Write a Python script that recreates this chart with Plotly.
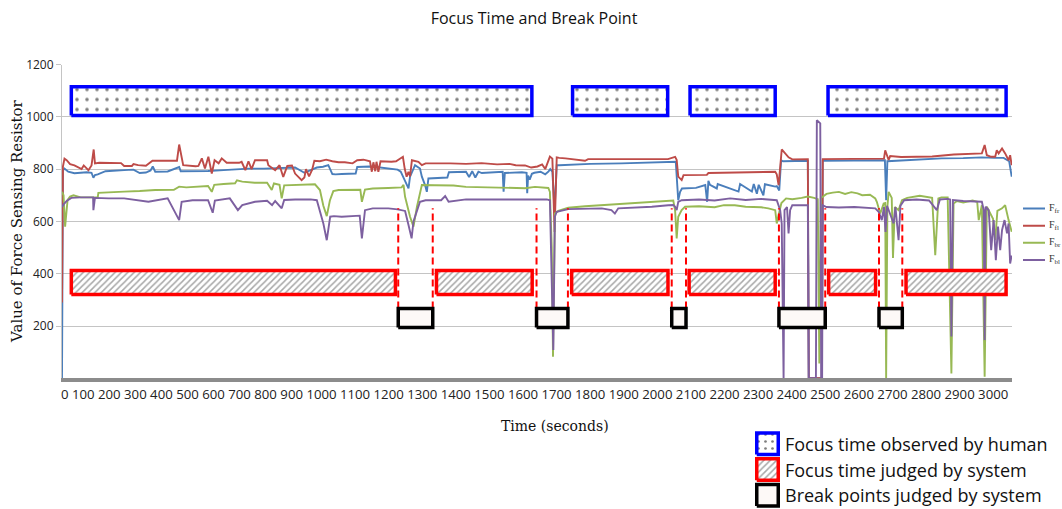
import plotly.graph_objects as go

# ---------------------------------------------------------------------------
# Force sensing resistor readings: (time in s, raw value)
# fr = front right, fl = front left, br = back right, bl = back left
# ---------------------------------------------------------------------------
FR_READINGS = [
    (0, 0), (3, 795), (8, 802), (20, 790), (40, 784), (60, 786), (80, 788), (95, 786),
    (101, 767), (106, 777), (115, 780), (140, 792), (170, 793), (200, 796), (230, 798),
    (240, 790), (250, 785), (270, 787), (285, 795), (292, 810), (300, 790), (340, 791),
    (377, 808), (382, 792), (420, 792), (470, 793), (520, 796), (560, 800), (600, 802),
    (650, 802), (700, 803), (750, 806), (780, 786), (800, 795), (820, 806), (840, 809),
    (847, 812), (857, 815), (870, 781), (880, 780), (900, 781), (930, 782), (945, 783),
    (950, 808), (990, 810), (1010, 808), (1040, 803), (1070, 800), (1080, 798), (1090, 790),
    (1104, 752), (1115, 726), (1120, 771), (1136, 815), (1152, 802), (1158, 771), (1168, 740),
    (1174, 713), (1179, 764), (1200, 765), (1240, 768), (1245, 788), (1300, 790), (1310, 770),
    (1320, 792), (1330, 768), (1340, 790), (1351, 785), (1400, 790), (1418, 790), (1421, 714),
    (1425, 785), (1480, 788), (1495, 786), (1497, 708), (1500, 775), (1505, 760), (1512, 782),
    (1520, 786), (1540, 790), (1555, 780), (1565, 790), (1571, 800), (1578, 790), (1585, 640),
    (1592, 815), (1600, 815), (1700, 820), (1800, 822), (1900, 824), (1950, 825), (1975, 828),
    (1983, 681), (1989, 713), (1995, 726), (2040, 728), (2070, 739), (2076, 675), (2080, 755),
    (2085, 740), (2107, 726), (2110, 743), (2177, 714), (2182, 743), (2220, 714), (2226, 743),
    (2236, 706), (2242, 740), (2257, 700), (2262, 742), (2295, 733), (2300, 735), (2308, 718),
    (2314, 834), (2320, 830), (2400, 832), (2403, 0), (2445, 0), (2448, 832), (2500, 833),
    (2600, 835), (2648, 834), (2652, 681), (2656, 830), (2700, 833), (2750, 836), (2800, 838),
    (2830, 841), (2900, 842), (2960, 845), (3000, 843), (3030, 843), (3048, 830), (3056, 771),
]

FL_READINGS = [
    (0, 290), (3, 810), (8, 840), (15, 834), (26, 819), (40, 814), (63, 800), (70, 814),
    (85, 796), (95, 814), (102, 875), (106, 822), (120, 824), (160, 824), (190, 823),
    (200, 812), (225, 812), (230, 819), (245, 815), (270, 813), (291, 832), (300, 832),
    (370, 832), (377, 894), (383, 860), (390, 815), (430, 811), (439, 812), (450, 841),
    (460, 802), (471, 847), (482, 783), (491, 834), (504, 822), (514, 841), (530, 824),
    (570, 824), (578, 828), (590, 796), (600, 830), (610, 800), (621, 834), (660, 834),
    (664, 815), (686, 796), (700, 815), (712, 770), (725, 812), (740, 814), (750, 783),
    (771, 758), (780, 768), (785, 800), (795, 772), (805, 798), (812, 832), (830, 830),
    (850, 836), (870, 830), (890, 826), (910, 826), (935, 822), (950, 834), (970, 836),
    (991, 830), (997, 790), (1002, 826), (1008, 792), (1012, 828), (1018, 790), (1025, 830),
    (1040, 828), (1060, 828), (1075, 830), (1090, 840), (1097, 847), (1103, 800), (1109, 771),
    (1115, 790), (1120, 772), (1126, 834), (1147, 828), (1158, 815), (1170, 822), (1250, 822),
    (1300, 820), (1350, 823), (1400, 818), (1440, 820), (1460, 815), (1490, 814), (1510, 806),
    (1530, 810), (1545, 818), (1555, 800), (1560, 815), (1570, 848), (1578, 840), (1585, 560),
    (1592, 845), (1600, 843), (1620, 841), (1683, 832), (1693, 838), (1750, 838), (1850, 837),
    (1950, 838), (1973, 847), (1978, 835), (1983, 771), (1994, 758), (2000, 777), (2075, 778),
    (2080, 785), (2150, 786), (2250, 788), (2295, 790), (2300, 780), (2306, 739), (2316, 875),
    (2327, 860), (2338, 845), (2350, 837), (2400, 838), (2403, 0), (2445, 0), (2448, 838),
    (2500, 838), (2600, 840), (2645, 840), (2649, 872), (2660, 835), (2665, 850), (2700, 846),
    (2800, 848), (2850, 853), (2870, 856), (2960, 860), (2969, 892), (2976, 853), (2990, 847),
    (3003, 847), (3008, 872), (3014, 860), (3025, 879), (3035, 860), (3046, 834), (3051, 853),
    (3056, 815),
]

FBR_READINGS = [
    (0, 713), (5, 700), (10, 580), (18, 682), (26, 695), (37, 700), (60, 692), (90, 693),
    (115, 692), (117, 709), (150, 712), (200, 714), (250, 716), (300, 720), (360, 721),
    (377, 733), (400, 730), (440, 734), (470, 735), (482, 713), (490, 740), (520, 743),
    (557, 746), (563, 757), (580, 752), (620, 748), (660, 748), (675, 720), (682, 745),
    (700, 740), (707, 688), (715, 738), (750, 740), (780, 739), (814, 742), (830, 720),
    (841, 660), (852, 620), (862, 680), (873, 716), (890, 720), (960, 721), (965, 675),
    (975, 722), (1000, 726), (1050, 728), (1093, 730), (1099, 740), (1104, 694), (1120, 618),
    (1131, 580), (1142, 655), (1152, 707), (1158, 739), (1200, 738), (1260, 737), (1300, 732),
    (1400, 730), (1490, 727), (1522, 732), (1565, 728), (1570, 713), (1576, 500), (1580, 82),
    (1586, 630), (1597, 640), (1629, 652), (1683, 658), (1737, 662), (1790, 665), (1844, 671),
    (1898, 675), (1951, 679), (1967, 680), (1973, 640), (1978, 535), (1983, 618), (1994, 643),
    (2005, 656), (2050, 658), (2100, 654), (2130, 662), (2165, 662), (2200, 656), (2250, 654),
    (2273, 650), (2295, 643), (2300, 592), (2305, 620), (2315, 670), (2330, 688), (2350, 685),
    (2380, 690), (2400, 695), (2420, 690), (2432, 685), (2437, 57), (2442, 690), (2448, 694),
    (2460, 705), (2480, 710), (2500, 713), (2520, 705), (2540, 712), (2560, 707), (2575, 700),
    (2600, 702), (2617, 688), (2622, 675), (2633, 630), (2644, 668), (2649, 670), (2652, 0),
    (2656, 655), (2660, 713), (2670, 690), (2674, 460), (2680, 655), (2692, 643), (2703, 681),
    (2720, 690), (2760, 698), (2800, 690), (2810, 471), (2820, 688), (2830, 692), (2850, 692),
    (2862, 18), (2869, 668), (2880, 678), (2900, 672), (2930, 680), (2945, 675), (2950, 605),
    (2960, 662), (2969, 6), (2976, 656), (2985, 635), (2996, 610), (3003, 528), (3010, 640),
    (3025, 650), (3035, 662), (3046, 605), (3051, 580), (3056, 560),
]

FBL_READINGS = [
    (0, 655), (5, 665), (15, 678), (30, 690), (60, 692), (100, 692), (101, 643), (106, 690),
    (150, 688), (200, 688), (278, 675), (300, 680), (340, 688), (377, 605), (385, 675),
    (420, 681), (470, 681), (485, 633), (492, 680), (540, 688), (566, 643), (580, 662),
    (621, 675), (660, 679), (676, 662), (686, 678), (707, 650), (715, 682), (750, 684),
    (800, 684), (820, 681), (841, 592), (852, 528), (863, 618), (875, 620), (900, 618),
    (930, 620), (958, 622), (965, 535), (975, 643), (1000, 650), (1050, 650), (1080, 646),
    (1104, 640), (1115, 586), (1125, 535), (1131, 600), (1142, 643), (1152, 675), (1170, 681),
    (1220, 681), (1233, 697), (1244, 675), (1300, 684), (1400, 684), (1500, 686), (1560, 684),
    (1570, 681), (1576, 400), (1581, 108), (1586, 618), (1592, 637), (1629, 647), (1737, 650),
    (1768, 643), (1779, 630), (1790, 650), (1844, 653), (1898, 656), (1951, 662), (1967, 663),
    (1973, 656), (1978, 643), (1983, 675), (1994, 681), (2050, 684), (2100, 680), (2150, 688),
    (2200, 682), (2250, 686), (2295, 681), (2300, 681), (2311, 643), (2316, 592), (2322, 0),
    (2325, 643), (2333, 655), (2338, 554), (2343, 643), (2350, 662), (2400, 662), (2403, 0),
    (2426, 0), (2429, 987), (2440, 975), (2443, 0), (2446, 0), (2448, 662), (2460, 655),
    (2500, 653), (2550, 655), (2600, 652), (2617, 650), (2628, 637), (2638, 605), (2645, 655),
    (2650, 560), (2655, 660), (2676, 592), (2682, 655), (2692, 528), (2698, 660), (2710, 681),
    (2750, 684), (2790, 680), (2815, 643), (2825, 684), (2850, 686), (2858, 684), (2862, 160),
    (2867, 682), (2900, 678), (2940, 676), (2960, 675), (2966, 643), (2969, 146), (2972, 656),
    (2982, 643), (2990, 490), (2998, 605), (3005, 452), (3012, 580), (3019, 490), (3025, 567),
    (3033, 605), (3041, 554), (3046, 592), (3051, 439), (3056, 470),
]

SENSOR_NAMES = ["F<sub>fr</sub>", "F<sub>fl</sub>", "F<sub>br</sub>", "F<sub>bl</sub>"]

# Intervals in seconds: (start, end)
HUMAN_FOCUS = [(30, 1512), (1643, 1949), (2021, 2295), (2465, 3038)]
SYSTEM_FOCUS = [(30, 1073), (1205, 1513), (1640, 1950), (2018, 2295), (2467, 2618), (2716, 3038)]
BREAK_POINTS = [(1082, 1193), (1527, 1628), (1962, 2008), (2307, 2456), (2629, 2704)]

X_TICK_LABELS = [str(v) for v in range(0, 3001, 100)]
Y_TICKS = [200, 400, 600, 800, 1000, 1200]

LEGEND_LABELS = ["Focus time observed by human",
                 "Focus time judged by system",
                 "Break points judged by system"]

# ---------------------------------------------------------------------------
# Styling / layout constants
# ---------------------------------------------------------------------------
W, H = 1062, 509
PLOT_L, PLOT_R, PLOT_T, PLOT_B = 62, 1012, 64.5, 378.3

SENSOR_COLORS = ["#4a7ebb", "#be4b48", "#98b954", "#7d60a0"]

HUMAN_BAND = (1005, 1115)
SYSTEM_BAND = (320, 412)
BREAK_BAND = (194, 267)
DASH_SPAN = (267, 650)

HUMAN_STYLE = dict(line="#0000ff", pattern=dict(shape=".", fgcolor="#000000", bgcolor="white",
                                                size=10, solidity=0.1))
SYSTEM_STYLE = dict(line="#ff0000", pattern=dict(shape="/", fgcolor="#505050", bgcolor="white",
                                                 size=4.5, solidity=0.33))
BREAK_STYLE = dict(line="#000000", pattern=None)
BREAK_FILL = "#fdf9f7"


def px_x(px):
    return px / W


def px_y(py):
    return 1 - py / H


def box_outline(intervals, band):
    xs, ys = [], []
    y0, y1 = band
    for a, b in intervals:
        xs += [a, b, b, a, a, None]
        ys += [y0, y0, y1, y1, y0, None]
    return xs, ys


fig = go.Figure()

# sensor traces
for readings, name, color in zip([FR_READINGS, FL_READINGS, FBR_READINGS, FBL_READINGS],
                                 SENSOR_NAMES, SENSOR_COLORS):
    t, v = zip(*readings)
    fig.add_trace(go.Scatter(x=list(t), y=list(v), mode="lines", name=name, showlegend=False,
                             line=dict(color=color, width=1.9)))

# dashed guides at every break boundary
dx, dy = [], []
for a, b in BREAK_POINTS:
    for edge in (a, b):
        dx += [edge, edge, None]
        dy += [DASH_SPAN[0], DASH_SPAN[1], None]
fig.add_trace(go.Scatter(x=dx, y=dy, mode="lines", showlegend=False, hoverinfo="skip",
                         line=dict(color="#ff0000", width=2, dash="7px,4px")))


def add_boxes(intervals, band, style, fill=None):
    xs, ys = box_outline(intervals, band)
    kw = dict(x=xs, y=ys, mode="lines", fill="toself", showlegend=False, hoverinfo="skip",
              line=dict(color=style["line"], width=3.5))
    if style["pattern"] is not None:
        kw["fillpattern"] = style["pattern"]
        kw["fillcolor"] = "white"
    else:
        kw["fillcolor"] = fill
    fig.add_trace(go.Scatter(**kw))


add_boxes(HUMAN_FOCUS, HUMAN_BAND, HUMAN_STYLE)
add_boxes(SYSTEM_FOCUS, SYSTEM_BAND, SYSTEM_STYLE)
add_boxes(BREAK_POINTS, BREAK_BAND, BREAK_STYLE, BREAK_FILL)

# key for the sensor lines (small axes on the right)
SKEY_TOP, SKEY_BOTTOM = 200, 268.5
srow_h = (SKEY_BOTTOM - SKEY_TOP) / 4
for i, (name, color) in enumerate(zip(SENSOR_NAMES, SENSOR_COLORS)):
    yc = 3.5 - i
    fig.add_trace(go.Scatter(x=[0, 1], y=[yc, yc], mode="lines", showlegend=False,
                             hoverinfo="skip", xaxis="x3", yaxis="y3",
                             line=dict(color=color, width=1.9)))
    fig.add_annotation(text=name, xref="paper", yref="paper", x=px_x(1047),
                       y=px_y(SKEY_TOP + srow_h * (i + 0.5)), xanchor="left", yanchor="middle",
                       showarrow=False,
                       font=dict(family="Liberation Serif", size=10, color="#333"))

# key for the box types (small axes in the lower right corner)
KEY_TOP, KEY_BOTTOM = 431, 508
row_h = (KEY_BOTTOM - KEY_TOP) / 3
for i, (style, label) in enumerate(zip([HUMAN_STYLE, SYSTEM_STYLE, BREAK_STYLE], LEGEND_LABELS)):
    lo, hi = 2 - i + 0.08, 3 - i - 0.08
    kw = dict(x=[0.07, 0.93, 0.93, 0.07, 0.07], y=[lo, lo, hi, hi, lo], mode="lines",
              fill="toself", showlegend=False, hoverinfo="skip", xaxis="x2", yaxis="y2",
              line=dict(color=style["line"], width=3.5))
    if style["pattern"] is not None:
        pat = dict(style["pattern"])
        if pat["shape"] == ".":
            pat.update(size=7, solidity=0.12)
        kw["fillpattern"] = pat
        kw["fillcolor"] = "white"
    else:
        kw["fillcolor"] = BREAK_FILL
    fig.add_trace(go.Scatter(**kw))
    fig.add_annotation(text=label, xref="paper", yref="paper", x=px_x(783),
                       y=px_y(KEY_TOP + row_h * (i + 0.5)), xanchor="left", yanchor="middle",
                       showarrow=False, font=dict(family="Open Sans", size=18, color="#111"))

# time labels written as one line of text under the axis
fig.add_annotation(text=" ".join(X_TICK_LABELS), xref="paper", yref="paper",
                   x=px_x(58.6), y=px_y(394), xanchor="left", yanchor="middle",
                   showarrow=False, font=dict(family="Open Sans", size=13.2, color="#222"))

fig.add_annotation(text="Time (seconds)", xref="paper", yref="paper",
                   x=px_x(555), y=px_y(426), xanchor="center", yanchor="middle",
                   showarrow=False, font=dict(family="DejaVu Serif", size=14, color="#111"))

fig.add_annotation(text="Value of Force Sensing Resistor", xref="paper", yref="paper",
                   x=px_x(17), y=px_y(222), textangle=-90, xanchor="center", yanchor="middle",
                   showarrow=False, font=dict(family="DejaVu Serif", size=15, color="#111"))

fig.update_layout(
    width=W, height=H,
    margin=dict(l=0, r=0, t=0, b=0, autoexpand=False),
    paper_bgcolor="white", plot_bgcolor="white",
    showlegend=False,
    title=dict(text="Focus Time and Break Point", x=px_x(534), y=px_y(18),
               xanchor="center", yanchor="middle", xref="paper", yref="paper",
               font=dict(family="Open Sans", size=16, color="#111")),
    xaxis=dict(domain=[px_x(PLOT_L), px_x(PLOT_R)], range=[0, 3057], showticklabels=False,
               showgrid=False, zeroline=False, showline=True, linecolor="#8c8c8c",
               linewidth=3.5, ticks=""),
    yaxis=dict(domain=[px_y(PLOT_B), px_y(PLOT_T)], range=[0, 1200], tickvals=Y_TICKS,
               showgrid=True, gridcolor="#c4c4c4", gridwidth=1, zeroline=False,
               showline=True, linecolor="#c4c4c4", linewidth=1, ticks="outside",
               ticklen=5, tickcolor="#c4c4c4",
               tickfont=dict(family="Open Sans", size=12, color="#222")),
    xaxis2=dict(domain=[px_x(755), px_x(780)], range=[0, 1], visible=False,
                anchor="y2", fixedrange=True),
    yaxis2=dict(domain=[px_y(KEY_BOTTOM), px_y(KEY_TOP)], range=[0, 3], visible=False,
                anchor="x2", fixedrange=True),
    xaxis3=dict(domain=[px_x(1023), px_x(1045)], range=[0, 1], visible=False,
                anchor="y3", fixedrange=True),
    yaxis3=dict(domain=[px_y(SKEY_BOTTOM), px_y(SKEY_TOP)], range=[0, 4], visible=False,
                anchor="x3", fixedrange=True),
)

fig.write_html("out.html")
